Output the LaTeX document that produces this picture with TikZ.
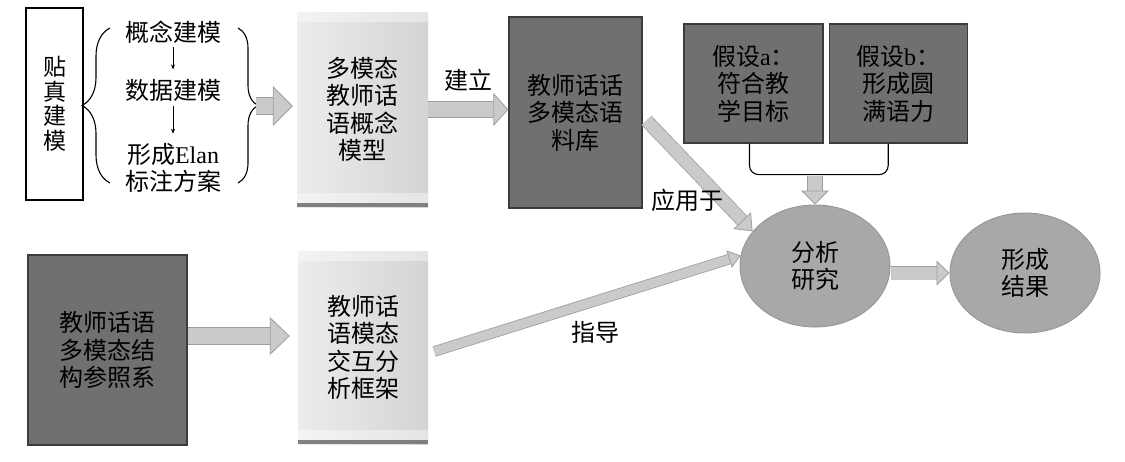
\documentclass[tikz,border=0pt]{standalone}
\usepackage{fontspec}
\setmainfont{Liberation Serif}
\newfontfamily\cjk{Noto Sans CJK SC}
\usetikzlibrary{positioning,shapes.geometric,arrows.meta,decorations.pathreplacing}
\definecolor{boxdark}{RGB}{112,112,112}
\definecolor{boxline}{RGB}{60,60,60}
\definecolor{ovalfill}{RGB}{168,168,168}
\definecolor{ovalline}{RGB}{152,152,152}
\definecolor{arrowfill}{RGB}{202,202,202}
\definecolor{arrowline}{RGB}{158,158,158}
\definecolor{paleleft}{RGB}{236,236,236}
\definecolor{paleright}{RGB}{212,212,212}

\begin{document}
\begin{tikzpicture}[x=1pt,y=-1pt,font=\cjk\fontsize{24pt}{27.5pt}\selectfont,
  whitebox/.style={draw,line width=1.3pt,fill=white,inner sep=0pt,align=center},
  palebox/.style={inner sep=0pt,align=center,left color=paleleft,right color=paleright,
    path picture={
      \fill[white,opacity=.4] (path picture bounding box.north west) rectangle ([yshift=-10pt]path picture bounding box.north east);
      \fill[white,opacity=.4] ([yshift=4pt]path picture bounding box.south west) rectangle ([yshift=14pt]path picture bounding box.south east);
      \fill[black!50] (path picture bounding box.south west) rectangle ([yshift=4pt]path picture bounding box.south east);}},
  darkbox/.style={draw=boxline,line width=1.2pt,fill=boxdark,inner sep=0pt,align=center},
  oval/.style={ellipse,draw=ovalline,line width=1pt,fill=ovalfill,inner sep=0pt,align=center,
    font=\cjk\fontsize{24pt}{26.5pt}\selectfont},
  bracedeco/.style={decorate,decoration={brace,amplitude=#1},line width=1.1pt},
  smallarrow/.style={-{Stealth[length=5pt,width=4pt]},line width=0.6pt},
  fatarrow/.style n args={4}{line width=#1,draw=arrowfill,
    -{Triangle[width=#3,length=#4,line width=0.8pt,color=arrowline,fill=arrowfill]},
    preaction={draw=arrowline,line width=#2,-,shorten >=#4}}]

  \useasboundingbox (0,0) rectangle (1125,461);

  % modelling steps
  \node[whitebox,minimum width=57pt,minimum height=192pt,font=\cjk\fontsize{23pt}{24.5pt}\selectfont] (real) at (54.5,104) {贴\\真\\建\\模};

  \node (concept1) at (173,32) {概念建模};
  \node (concept2) at (173,90) {数据建模};
  \node[align=center] (concept3) at (173,168) {形成{\rmfamily Elan}\\标注方案};

  \draw[smallarrow,shorten <=0pt,shorten >=6pt] (concept1) -- (concept2);
  \draw[smallarrow,shorten <=1pt,shorten >=6pt] (concept2) -- (concept3);

  \draw[bracedeco=28pt] (110,183) -- (110,28);
  \draw[bracedeco=20pt] (238,28) -- (238,183);
  \coordinate (braceR) at (256,106);

  \node[palebox,minimum width=131pt,minimum height=195pt] (concept) at (362.5,109.5) {多模态\\教师话\\语概念\\模型};
  \node[darkbox,minimum width=133pt,minimum height=191pt] (corpus) at (575.5,112.5) {教师话话\\多模态语\\料库};

  \draw[fatarrow={16pt}{17.6pt}{40pt}{20pt},shorten >=4pt] (braceR) -- (braceR -| concept.west);
  \draw[fatarrow={15pt}{16.6pt}{33pt}{15pt}] (concept.east) -- (concept.east -| corpus.west);
  \node (buildlabel) at (468,80) {建立};

  % hypotheses
  \node[darkbox,minimum width=139pt,minimum height=119pt] (hypa) at (753.5,83.5) {假设{\rmfamily a}：\\符合教\\学目标};
  \node[darkbox,minimum width=138pt,minimum height=119pt,right=5pt of hypa] (hypb) {假设{\rmfamily b}：\\形成圆\\满语力};
  \draw[line width=1.1pt,rounded corners=9pt] ([xshift=-4pt]hypa.south) -- ++(0,31) -| ([xshift=-10pt]hypb.south);

  \node[oval,minimum width=150pt,minimum height=122pt] (analysis) at (815,266) {分析\\研究};
  \node[oval,minimum width=150pt,minimum height=120pt] (result) at (1025,273) {形成\\结果};

  \coordinate (hypjoin) at (815,175.5);
  \draw[fatarrow={14pt}{15.6pt}{28pt}{14pt}] (hypjoin) -- (analysis.north);
  \draw[fatarrow={13pt}{14.6pt}{25pt}{13pt}] (analysis.east |- result.west) -- (result.west);

  % reference frame
  \node[darkbox,minimum width=159pt,minimum height=190pt] (frame) at (107.5,350) {教师话语\\多模态结\\构参照系};
  \node[palebox,minimum width=130pt,minimum height=193pt] (interact) at (363,347.5) {教师话\\语模态\\交互分\\析框架};

  \coordinate (frameout) at ([yshift=14pt]frame.east);
  \draw[fatarrow={16pt}{17.6pt}{38pt}{20pt},shorten >=8pt] (frameout) -- (frameout -| interact.west);

  \coordinate (applyout) at ([xshift=4pt,yshift=-8pt]corpus.east);
  \draw[fatarrow={12pt}{13.6pt}{24pt}{15pt}] (applyout) -- (analysis.151);
  \node (applylabel) at (687,200) {应用于};

  \coordinate (guideout) at ([xshift=6pt,yshift=-4pt]interact.east);
  \draw[fatarrow={9pt}{10.6pt}{18pt}{12pt}] (guideout) -- (analysis.172);
  \node (guidelabel) at (595,332) {指导};

\end{tikzpicture}
\end{document}
